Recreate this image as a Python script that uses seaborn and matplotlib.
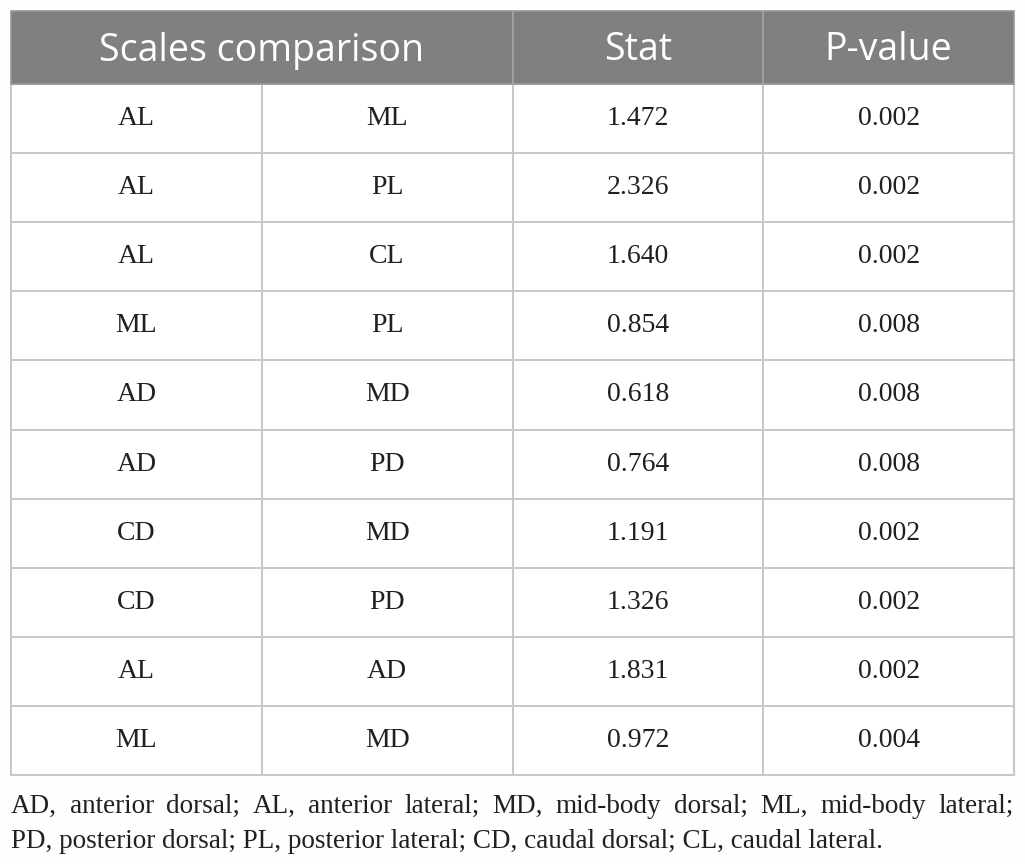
import numpy as np
import pandas as pd
import matplotlib
matplotlib.use('Agg')
import matplotlib.pyplot as plt
from matplotlib.colors import ListedColormap
from matplotlib.patches import Rectangle
import seaborn as sns

# table content
header = ['Scales comparison', 'Stat', 'P-value']
scale_a = ['AL', 'AL', 'AL', 'ML', 'AD', 'AD', 'CD', 'CD', 'AL', 'ML']
scale_b = ['ML', 'PL', 'CL', 'PL', 'MD', 'PD', 'MD', 'PD', 'AD', 'MD']
stat = [1.472, 2.326, 1.640, 0.854, 0.618, 0.764, 1.191, 1.326, 1.831, 0.972]
p_value = [0.002, 0.002, 0.002, 0.008, 0.008, 0.008, 0.002, 0.002, 0.002, 0.004]
foot_lines = ['AD, anterior dorsal; AL, anterior lateral; MD, mid-body dorsal; ML, mid-body lateral;',
              'PD, posterior dorsal; PL, posterior lateral; CD, caudal dorsal; CL, caudal lateral.']

W, H = 1025, 864
left, right, top, head_bot, bottom = 11, 1014, 11, 84, 775
grid_col = '#c8c8c8'
text_col = '#231f20'
serif = ['Liberation Serif', 'DejaVu Serif']

sns.set_theme(style='white')
plt.rcParams['font.family'] = serif

fig = plt.figure(figsize=(W / 100, H / 100), dpi=100, facecolor='#fefefc')

# body of the table drawn as a heatmap with flat white cells
labels = pd.DataFrame({'a': scale_a, 'b': scale_b,
                       'stat': ['%.3f' % v for v in stat],
                       'p': ['%.3f' % v for v in p_value]})
zeros = np.zeros(labels.shape)
ax = fig.add_axes([left / W, 1 - bottom / H, (right - left) / W, (bottom - head_bot) / H])
sns.heatmap(zeros, ax=ax, cmap=ListedColormap(['white']), cbar=False,
            annot=labels.values, fmt='', linewidths=1.2, linecolor=grid_col,
            annot_kws=dict(fontsize=20, family=serif, color=text_col))
ax.set_xticks([])
ax.set_yticks([])
for s in ax.spines.values():
    s.set_visible(True)
    s.set_color(grid_col)
    s.set_linewidth(1.5)

# overlay in pixel coordinates for header and footnote
ov = fig.add_axes([0, 0, 1, 1])
ov.set_xlim(0, W)
ov.set_ylim(H, 0)
ov.axis('off')
ov.patch.set_alpha(0)

ov.add_patch(Rectangle((left, top), right - left, head_bot - top,
                       facecolor='#808080', edgecolor='#999999', lw=1.2))
col_w = (right - left) / 4
for k in [2, 3]:
    ov.plot([left + k * col_w] * 2, [top, head_bot], color='#a6a6a6', lw=1.2)
head_x = [left + col_w, left + 2.5 * col_w, left + 3.5 * col_w]
for x, t in zip(head_x, header):
    ov.text(x, (top + head_bot) / 2 + 3, t, ha='center', va='center',
            fontsize=27, color='white', family=['Open Sans', 'DejaVu Sans'])

# justified footnote
fig.canvas.draw()
renderer = fig.canvas.get_renderer()
foot_size = 19.5
base_y = [813, 848]
for i, line in enumerate(foot_lines):
    words = line.split(' ')
    if i == len(foot_lines) - 1:
        ov.text(left, base_y[i], line, ha='left', va='baseline',
                fontsize=foot_size, color=text_col, family=serif)
        continue
    objs = [ov.text(0, base_y[i], w, ha='left', va='baseline',
                    fontsize=foot_size, color=text_col, family=serif) for w in words]
    widths = [o.get_window_extent(renderer).width for o in objs]
    gap = (right - left - sum(widths)) / (len(words) - 1)
    x = left
    for o, w in zip(objs, widths):
        o.set_x(x)
        x += w + gap

fig.savefig('out.png', dpi=100, facecolor=fig.get_facecolor())
